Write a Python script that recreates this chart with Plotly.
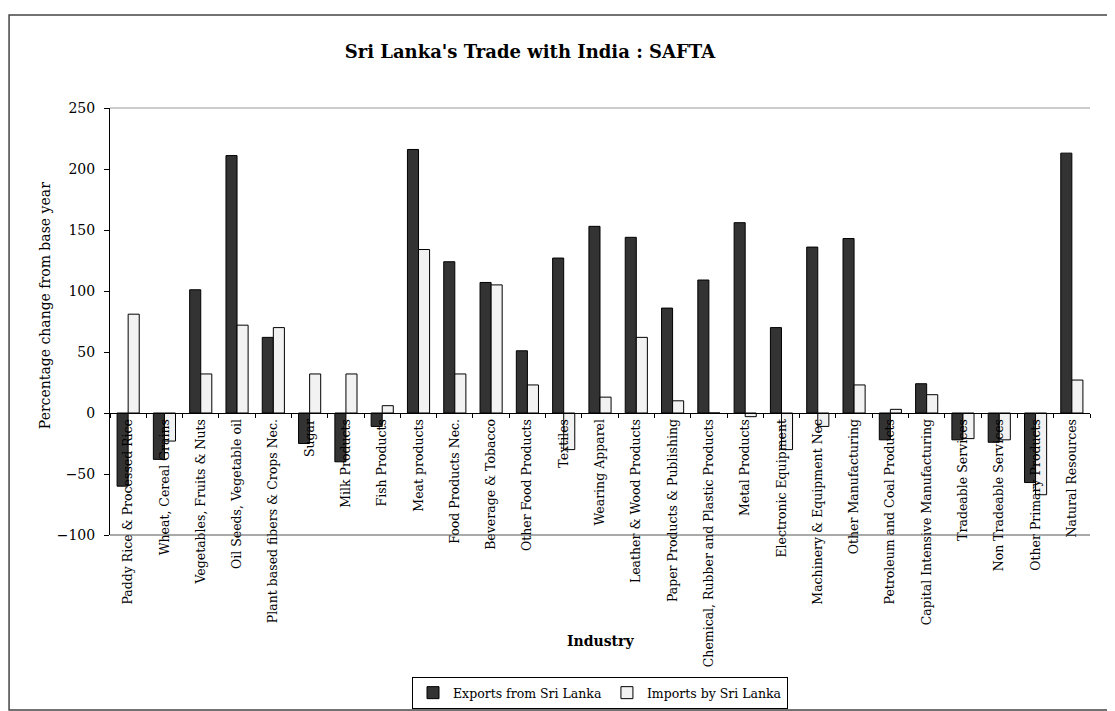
import plotly.graph_objects as go

industries = [
    "Paddy Rice & Processed Rice", "Wheat, Cereal Grains", "Vegetables, Fruits & Nuts",
    "Oil Seeds, Vegetable oil", "Plant based fibers & Crops Nec.", "Sugar", "Milk Products",
    "Fish Products", "Meat products", "Food Products Nec.", "Beverage & Tobacco",
    "Other Food Products", "Textiles", "Wearing Apparel", "Leather & Wood Products",
    "Paper Products & Publishing", "Chemical, Rubber and Plastic Products", "Metal Products",
    "Electronic Equipment", "Machinery & Equipment Nec", "Other Manufacturing",
    "Petroleum and Coal Products", "Capital Intensive Manufacturing", "Tradeable Services",
    "Non Tradeable Services", "Other Primary Products", "Natural Resources",
]
exports = [-60, -38, 101, 211, 62, -25, -40, -11, 216, 124, 107, 51, 127, 153, 144,
           86, 109, 156, 70, 136, 143, -22, 24, -22, -24, -57, 213]
imports = [81, -23, 32, 72, 70, 32, 32, 6, 134, 32, 105, 23, -30, 13, 62,
           10, 0, -3, -30, -11, 23, 3, 15, -21, -22, -67, 27]

y_min, y_max = -100, 250
zero_pos = (0 - y_min) / (y_max - y_min)

fig = go.Figure()
fig.add_trace(go.Bar(x=industries, y=exports, name="Exports from Sri Lanka",
                     marker=dict(color="#333333", line=dict(color="black", width=1))))
fig.add_trace(go.Bar(x=industries, y=imports, name="Imports by Sri Lanka",
                     marker=dict(color="#f2f2f2", line=dict(color="black", width=1))))

serif = "DejaVu Serif"
# page body has an 8px margin, so the figure is 8px smaller than the window
fig.update_layout(
    width=1107, height=703,
    margin=dict(l=102, r=25, t=100, b=176, autoexpand=False),
    paper_bgcolor="white", plot_bgcolor="white",
    barmode="group", bargap=0.39, bargroupgap=0,
    title=dict(text="<b>Sri Lanka's Trade with India : SAFTA</b>", xref="container", x=0.4715,
               xanchor="center", yref="container", y=0.9374, yanchor="middle",
               font=dict(family=serif, size=18, color="black")),
    font=dict(family=serif, color="black"),
    showlegend=True,
    legend=dict(orientation="h", x=0.5, xanchor="center", y=-0.3326, yanchor="top",
                bordercolor="black", borderwidth=1, font=dict(family=serif, size=12.5),
                itemwidth=30, tracegroupgap=0),
    xaxis=dict(type="category", anchor="free", position=zero_pos, showline=True,
               linecolor="black", linewidth=1, ticks="outside", ticklen=4, tickson="boundaries",
               tickcolor="black", tickangle=-90, tickfont=dict(family=serif, size=12.5),
               showgrid=False, automargin=False),
    yaxis=dict(range=[y_min, y_max], dtick=50, showline=True, linecolor="black",
               ticks="outside", ticklen=5, tickcolor="black", showgrid=False, zeroline=False,
               tickfont=dict(family=serif, size=14), automargin=False, ticklabelstandoff=6),
)

# plot area top/bottom borders and outer chart frame
fig.add_shape(type="line", xref="paper", yref="paper", x0=0, x1=1, y0=1, y1=1,
              line=dict(color="#999999", width=1))
fig.add_shape(type="line", xref="paper", yref="paper", x0=0, x1=1, y0=0, y1=0,
              line=dict(color="#555555", width=1))
fig.add_shape(type="rect", xref="paper", yref="paper", x0=-0.103, x1=1.0204, y0=-0.41, y1=1.218,
              line=dict(color="#444444", width=1.5))

fig.add_annotation(text="Percentage change from base year", xref="paper", yref="paper",
                   x=-0.0765, y=0.536, textangle=-90, showarrow=False,
                   font=dict(family=serif, size=14))
fig.add_annotation(text="<b>Industry</b>", xref="paper", yref="paper", x=0.5, y=-0.2717,
                   showarrow=False, font=dict(family=serif, size=14))

fig.write_html("out.html")
